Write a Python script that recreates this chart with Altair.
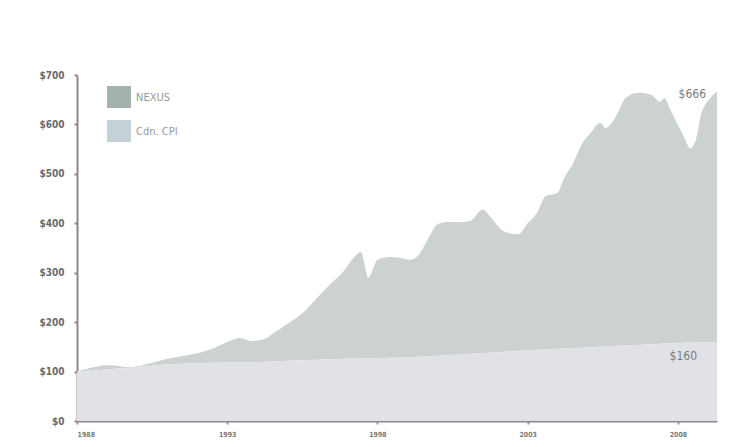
import altair as alt
import pandas as pd

# NEXUS growth of $100
nexus_years = [1988.0, 1988.5, 1988.9, 1989.3, 1989.7, 1990.1, 1990.5, 1991.0, 1991.5, 1992.0,
               1992.5, 1993.0, 1993.4, 1993.8, 1994.2, 1994.6, 1995.0, 1995.5, 1996.0, 1996.4,
               1996.9, 1997.2, 1997.45, 1997.7, 1998.0, 1998.4, 1998.8, 1999.1, 1999.4, 1999.7,
               2000.0, 2000.4, 2000.8, 2001.1, 2001.5, 2001.8, 2002.1, 2002.4, 2002.7, 2003.0,
               2003.3, 2003.6, 2004.0, 2004.2, 2004.5, 2004.8, 2005.1, 2005.4, 2005.6, 2006.0,
               2006.25, 2006.7, 2007.1, 2007.4, 2007.55, 2007.75, 2008.2, 2008.4, 2008.6, 2008.75,
               2009.1, 2009.3]
nexus_values = [100, 108, 113, 112, 109, 112, 118, 126, 131, 137,
                146, 160, 168, 162, 165, 180, 196, 218, 250, 275,
                305, 330, 342, 290, 326, 332, 330, 326, 338, 370,
                398, 403, 402, 405, 428, 410, 388, 380, 378, 400,
                420, 455, 462, 490, 520, 560, 583, 603, 593, 623,
                653, 664, 660, 646, 653, 629, 575, 552, 569, 615,
                655, 666]

# Canadian CPI growth of $100
cpi_years = [1988, 1989, 1990, 1991, 1992, 1993, 1994, 1995, 1996, 1997, 1998,
             1999, 2000, 2001, 2002, 2003, 2004, 2005, 2006, 2007, 2008, 2009.3]
cpi_values = [100, 104, 109, 115, 117, 119, 119, 122, 124, 126, 127,
              129, 132, 136, 139, 143, 146, 149, 152, 155, 158, 160]

x_ticks = [1988, 1993, 1998, 2003, 2008]
y_ticks = [0, 100, 200, 300, 400, 500, 600, 700]

legend_labels = ["NEXUS", "Cdn. CPI"]
legend_colors = ["#a3b3ab", "#c5d1d6"]
area_colors = ["#cbd2cf", "#e1e2e8"]

FONT = "DejaVu Sans Condensed, Roboto Condensed, Roboto, sans-serif"

# NEXUS area sits above the CPI area (from CPI level up to NEXUS level)
cpi_interp = pd.Series(cpi_values, index=cpi_years)
all_idx = sorted(set(cpi_years) | set(nexus_years))
cpi_full = cpi_interp.reindex(all_idx).interpolate(method="index")
nexus_df = pd.DataFrame({
    "year": nexus_years,
    "value": nexus_values,
    "base": [float(cpi_full.loc[y]) for y in nexus_years],
})
cpi_df = pd.DataFrame({"year": cpi_years, "value": cpi_values})

xs = alt.Scale(domain=[1988, 2009.3], nice=False, zero=False)
ys = alt.Scale(domain=[0, 700], nice=False)

x_axis = alt.Axis(values=x_ticks, format="d", title=None, grid=False,
                  domainColor="#8a8a8a", domainWidth=2, tickColor="#9a9a9a",
                  tickSize=3, tickWidth=2, labelColor="#7a7a7a", labelFontSize=7,
                  labelFont=FONT, labelPadding=6, labelFontWeight="bold")
y_axis = alt.Axis(values=y_ticks, format="$,d", title=None, grid=False,
                  domainColor="#8a8a8a", domainWidth=2, tickColor="#8a8a8a",
                  tickSize=3, tickWidth=2, labelColor="#6a6a6a", labelFontSize=10,
                  labelFont=FONT, labelPadding=10, labelFontWeight="bold")

nexus_area = alt.Chart(nexus_df).mark_area(color=area_colors[0], interpolate="monotone").encode(
    x=alt.X("year:Q", scale=xs, axis=x_axis),
    y=alt.Y("value:Q", scale=ys, axis=y_axis),
    y2="base:Q",
)
cpi_area = alt.Chart(cpi_df).mark_area(color=area_colors[1]).encode(
    x=alt.X("year:Q", scale=xs),
    y=alt.Y("value:Q", scale=ys),
    y2=alt.datum(0),
)

end_nexus = alt.Chart(nexus_df.tail(1)).mark_text(
    align="right", baseline="middle", dx=-11, dy=2, font=FONT, fontSize=12, color="#7a7a7a"
).encode(x="year:Q", y="value:Q", text=alt.Text("value:Q", format="$d"))
end_cpi = alt.Chart(cpi_df.tail(1)).mark_text(
    align="right", baseline="middle", dx=-20, dy=14, font=FONT, fontSize=12, color="#7a7a7a"
).encode(x="year:Q", y="value:Q", text=alt.Text("value:Q", format="$d"))

legend_layers = []
for i, (lab, col) in enumerate(zip(legend_labels, legend_colors)):
    top = 11 + i * 34
    legend_layers.append(
        alt.Chart(pd.DataFrame({"label": [lab]})).mark_rect(color=col).encode(
            x=alt.value(30), x2=alt.value(54), y=alt.value(top), y2=alt.value(top + 22))
    )
    legend_layers.append(
        alt.Chart(pd.DataFrame({"label": [lab]})).mark_text(
            align="left", baseline="middle", font=FONT, fontSize=11, color="#9a9a9a"
        ).encode(x=alt.value(59), y=alt.value(top + 12), text="label:N")
    )

chart = alt.layer(nexus_area, cpi_area, end_nexus, end_cpi, *legend_layers).properties(
    width=640, height=346,
    autosize=alt.AutoSizeParams(type="none"),
    padding={"left": 69, "top": 67, "right": 12, "bottom": 18},
    background="white",
).configure_view(stroke=None)

chart.save("out.html", embed_options={"renderer": "svg", "actions": False})
